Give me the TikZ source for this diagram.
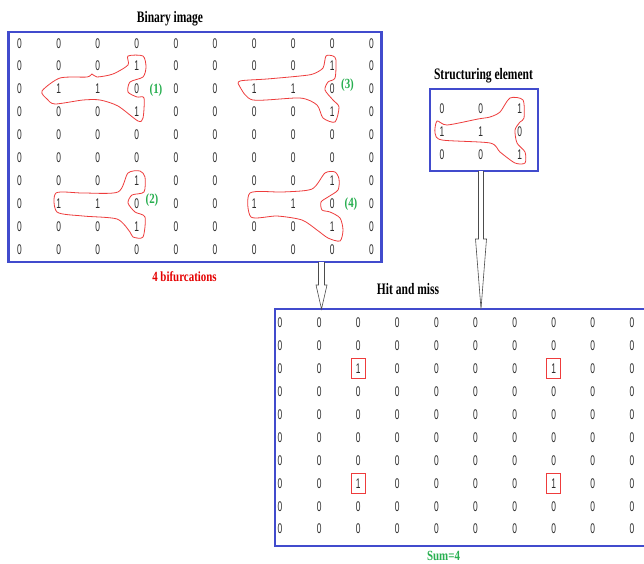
\documentclass[tikz,border=0pt]{standalone}
\usepackage{fontspec}
\usetikzlibrary{calc}
\newfontfamily\digfont[FakeStretch=0.6]{Liberation Sans}
\newfontfamily\ttlfont[FakeStretch=0.72]{Liberation Serif}
\newfontfamily\lblfont[FakeStretch=0.78]{Liberation Serif}
\definecolor{boxblue}{RGB}{65,75,205}
\definecolor{blobred}{RGB}{238,60,60}
\definecolor{lblgreen}{RGB}{40,175,80}
\definecolor{digray}{RGB}{45,45,45}
\begin{document}
\begin{tikzpicture}[x=1pt,y=-1pt,
  dig/.style={font=\digfont\fontsize{14}{15}\selectfont, text=digray, inner sep=0pt},
  ttl/.style={font=\ttlfont\bfseries\fontsize{16}{18}\selectfont, inner sep=0pt},
  note/.style={font=\lblfont\bfseries\fontsize{14}{16}\selectfont, inner sep=0pt},
  num/.style={font=\lblfont\bfseries\fontsize{14}{16}\selectfont, text=lblgreen, inner sep=0pt},
  frame/.style={draw=boxblue, line width=2.6pt, inner sep=0pt, outer sep=0pt},
  blob/.style={draw=blobred, line width=0.8pt},
  hitbox/.style={draw=blobred, line width=0.8pt, minimum width=14pt, minimum height=20pt, inner sep=0pt},
  hollow/.style={draw=black!70, fill=white, line width=0.6pt, line join=miter}]
\useasboundingbox (0,0) rectangle (644,563);
\fill[white] (0,0) rectangle (644,563);
\clip (0,0) rectangle (644,563);

% frames
\node[frame, minimum width=373pt, minimum height=230pt] (bin) at (195,147) {};
\node[frame, minimum width=108pt, minimum height=82pt] (se) at (484,130) {};
\node[frame, minimum width=385pt, minimum height=237pt] (hm) at (467.5,427.5) {};

% titles
\node[ttl] (tbin) at (170,18.5) {Binary image};
\node[ttl] (tse) at (483.5,76) {Structuring element};
\node[ttl] (thm) at (408,289) {Hit and miss};
\node[note, text=red!90!black] (tbif) at (184.5,277) {4 bifurcations};
\node[note, text=lblgreen] (tsum) at (443.5,556) {Sum=4};

% binary image
\foreach \row [count=\r] in {
  {0,0,0,0,0,0,0,0,0,0},
  {0,0,0,1,0,0,0,0,1,0},
  {0,1,1,0,0,0,1,1,0,0},
  {0,0,0,1,0,0,0,0,1,0},
  {0,0,0,0,0,0,0,0,0,0},
  {0,0,0,0,0,0,0,0,0,0},
  {0,0,0,1,0,0,0,0,1,0},
  {0,1,1,0,0,0,1,1,0,0},
  {0,0,0,1,0,0,0,0,1,0},
  {0,0,0,0,0,0,0,0,0,0}}{
  \foreach \v [count=\c] in \row {
    \node[dig] (b-\r-\c) at ({19.5+39.1*(\c-1)},{43.2+22.9*(\r-1)}) {\v};
  }
}

% structuring element
\foreach \row [count=\r] in {{0,0,1},{1,1,0},{0,0,1}}{
  \foreach \v [count=\c] in \row {
    \node[dig] (s-\r-\c) at ({442+38.8*(\c-1)},{108.5+23.3*(\r-1)}) {\v};
  }
}

% hit and miss
\foreach \row [count=\r] in {
  {0,0,0,0,0,0,0,0,0,0},
  {0,0,0,0,0,0,0,0,0,0},
  {0,0,1,0,0,0,0,1,0,0},
  {0,0,0,0,0,0,0,0,0,0},
  {0,0,0,0,0,0,0,0,0,0},
  {0,0,0,0,0,0,0,0,0,0},
  {0,0,0,0,0,0,0,0,0,0},
  {0,0,1,0,0,0,0,1,0,0},
  {0,0,0,0,0,0,0,0,0,0},
  {0,0,0,0,0,0,0,0,0,0}}{
  \foreach \v [count=\c] in \row {
    \node[dig] (h-\r-\c) at ({280+39.1*(\c-1)},{323+22.9*(\r-1)}) {\v};
  }
}

% hit marks
\node[hitbox] (m1) at (h-3-3) {};
\node[hitbox] (m2) at (h-3-8) {};
\node[hitbox] (m3) at (h-8-3) {};
\node[hitbox] (m4) at (h-8-8) {};

% green labels
\node[num] (l1) at (156,90.5) {(1)};
\node[num] (l3) at (347.5,85.5) {(3)};
\node[num] (l2) at (152,200.5) {(2)};
\node[num] (l4) at (351,204) {(4)};

% red contours
\draw[blob] plot[smooth cycle, tension=0.45] coordinates {
  (42,91) (60,78) (87,77) (92,74) (97,77) (113,74) (128,65) (128,56) (143,56)
  (146,67) (143,77) (130,82) (128,92) (137,97) (144,98) (143,118) (138,121)
  (118,106) (100,100) (83,100) (55,104) (47,99)};
\draw[blob] plot[smooth cycle, tension=0.45] coordinates {
  (240,81) (240,87) (253,100) (300,98) (317,105) (323,118) (335,122) (339,107)
  (333,100) (325,90) (328,82) (335,78) (336,60) (333,56) (326,56) (323,68)
  (313,74) (300,76) (267,79)};
\draw[blob] plot[smooth cycle, tension=0.45] coordinates {
  (56,193) (57,212) (83,216) (117,219) (130,232) (133,237) (143,237) (145,217)
  (135,212) (128,203) (132,195) (144,192) (145,177) (140,171) (128,173)
  (118,192) (83,193)};
\draw[blob] plot[smooth cycle, tension=0.45] coordinates {
  (250,193) (251,217) (277,216) (302,220) (317,230) (328,238) (340,241)
  (343,230) (340,218) (330,212) (322,210) (321,202) (328,197) (338,190)
  (339,179) (335,172) (325,173) (312,189) (283,192)};
\draw[blob] plot[smooth cycle, tension=0.45] coordinates {
  (437,121) (435,133) (442,140) (490,143) (500,152) (515,163) (525,163)
  (525,152) (517,143) (515,130) (520,122) (524,118) (523,100) (510,98)
  (500,112) (490,117) (478,119) (447,125)};

% arrows
\coordinate (ax1) at (321.5,0);
\coordinate (ax2) at (481,0);
\draw[hollow] let \p1=(bin.south -| ax1), \p2=(hm.north -| ax1) in
  (\x1-3pt,\y1) -- (\x1-3pt,\y2+24pt) -- (\x1-5.5pt,\y2+24pt) -- (\x1,\y2)
  -- (\x1+5.5pt,\y2+24pt) -- (\x1+3pt,\y2+24pt) -- (\x1+3pt,\y1);
\draw[hollow] let \p1=(se.south -| ax2), \p2=(hm.north -| ax2) in
  (\x1-2.5pt,\y1) -- (\x1-2.5pt,\y2+70pt) -- (\x1-5.5pt,\y2+70pt) -- (\x1,\y2)
  -- (\x1+5.5pt,\y2+70pt) -- (\x1+2.5pt,\y2+70pt) -- (\x1+2.5pt,\y1);
\end{tikzpicture}
\end{document}
